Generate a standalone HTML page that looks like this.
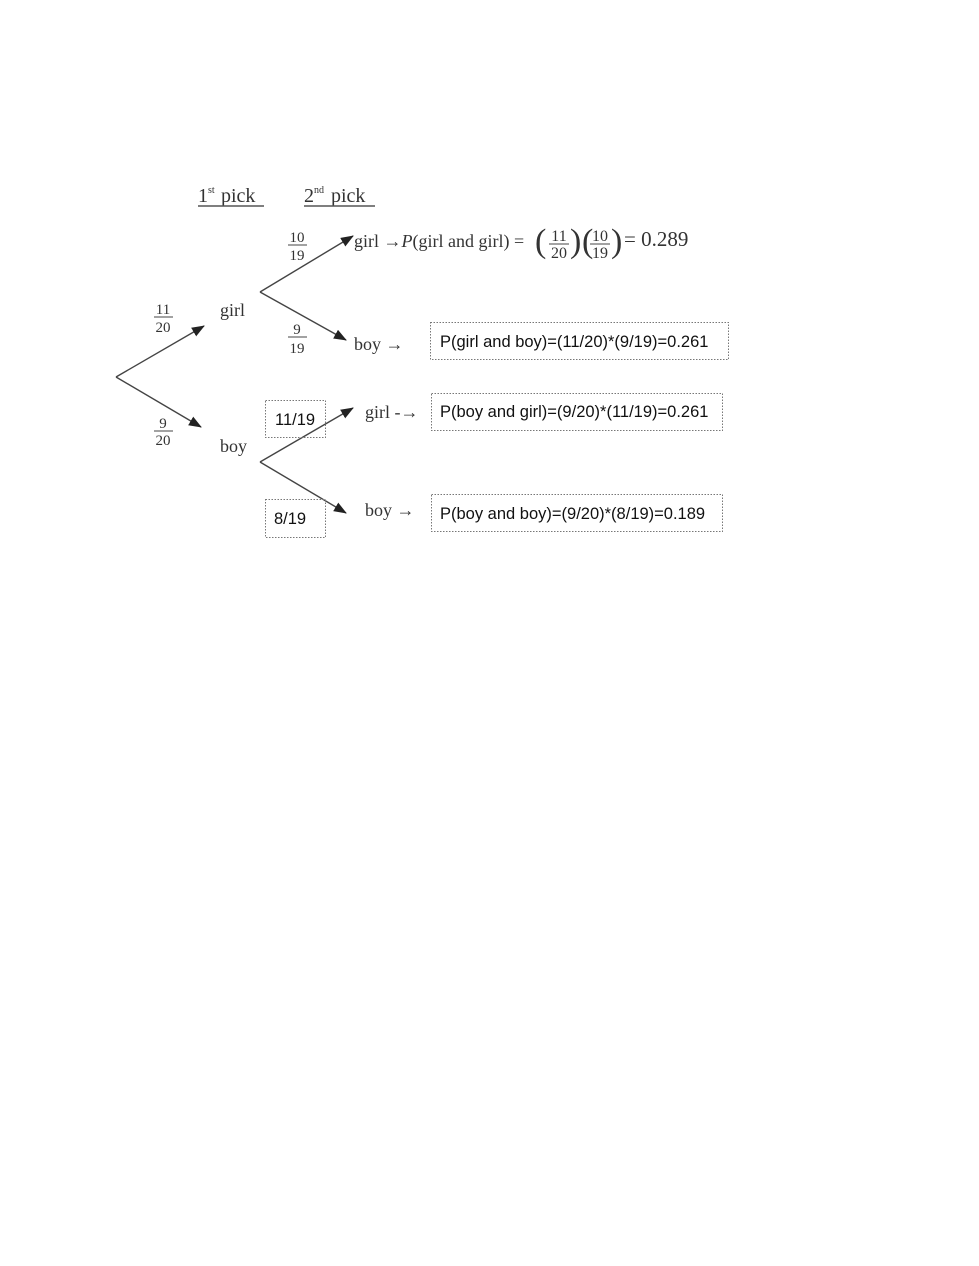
<!DOCTYPE html>
<html><head><meta charset="utf-8"><style>
html,body{margin:0;padding:0;background:#fff;}
svg{display:block}
.s{font-family:"Liberation Serif",serif;fill:#333;}
.a{font-family:"Liberation Sans",sans-serif;fill:#111;font-size:16.5px;}
</style></head><body>
<svg width="979" height="1266" viewBox="0 0 979 1266" xmlns="http://www.w3.org/2000/svg">
<defs><marker id="m" markerWidth="13" markerHeight="10" refX="12" refY="5" orient="auto" markerUnits="userSpaceOnUse"><path d="M0,0 L13,5 L0,10 z" fill="#222"/></marker></defs>
<g stroke="#444" stroke-width="1.4" fill="none">
<path d="M116,377 L204,326" marker-end="url(#m)"/>
<path d="M116,377 L201,427" marker-end="url(#m)"/>
<path d="M260,292 L353,236" marker-end="url(#m)"/>
<path d="M260,292 L346,340" marker-end="url(#m)"/>
<path d="M260,462 L353,408" marker-end="url(#m)"/>
<path d="M260,462 L346,513" marker-end="url(#m)"/>
</g>
<g class="s">
<text x="198" y="202" font-size="20">1</text><text x="208" y="193" font-size="10">st</text><text x="221" y="202" font-size="20">pick</text>
<line x1="198" y1="206" x2="264" y2="206" stroke="#555" stroke-width="1.5"/>
<text x="304" y="202" font-size="20">2</text><text x="314" y="193" font-size="10">nd</text><text x="331" y="202" font-size="20">pick</text>
<line x1="304" y1="206" x2="375" y2="206" stroke="#555" stroke-width="1.5"/>
<g font-size="15" text-anchor="middle">
<text x="163" y="314">11</text><line x1="154" y1="317" x2="173" y2="317" stroke="#444"/><text x="163" y="332">20</text>
<text x="163" y="428">9</text><line x1="154" y1="431" x2="173" y2="431" stroke="#444"/><text x="163" y="445">20</text>
<text x="297" y="242">10</text><line x1="288" y1="245" x2="307" y2="245" stroke="#444"/><text x="297" y="260">19</text>
<text x="297" y="334">9</text><line x1="288" y1="337" x2="307" y2="337" stroke="#444"/><text x="297" y="353">19</text>
</g>
<text x="220" y="316" font-size="18">girl</text>
<text x="220" y="452" font-size="18">boy</text>
<text x="354" y="247" font-size="18">girl →<tspan font-style="italic">P</tspan>(girl and girl) = </text>
<text x="535" y="252" font-size="34" font-weight="100">(</text>
<text x="559" y="241" font-size="16" text-anchor="middle">11</text><line x1="549" y1="244" x2="569" y2="244" stroke="#444"/><text x="559" y="258" font-size="16" text-anchor="middle">20</text>
<text x="570" y="252" font-size="34">)</text>
<text x="582" y="252" font-size="34">(</text>
<text x="600" y="241" font-size="16" text-anchor="middle">10</text><line x1="590" y1="244" x2="610" y2="244" stroke="#444"/><text x="600" y="258" font-size="16" text-anchor="middle">19</text>
<text x="611" y="252" font-size="34">)</text>
<text x="624" y="246" font-size="21">= 0.289</text>
<text x="354" y="350" font-size="18">boy →</text>
<text x="365" y="418" font-size="18">girl -→</text>
<text x="365" y="516" font-size="18">boy →</text>
</g>
<g fill="none" stroke="#777" stroke-width="1" stroke-dasharray="1.5,1.5">
<rect x="430.5" y="322.5" width="298" height="37"/>
<rect x="431.5" y="393.5" width="291" height="37"/>
<rect x="431.5" y="494.5" width="291" height="37"/>
<rect x="265.5" y="400.5" width="60" height="37"/>
<rect x="265.5" y="499.5" width="60" height="38"/>
</g>
<text class="a" x="440" y="347">P(girl and boy)=(11/20)*(9/19)=0.261</text>
<text class="a" x="440" y="417">P(boy and girl)=(9/20)*(11/19)=0.261</text>
<text class="a" x="440" y="519">P(boy and boy)=(9/20)*(8/19)=0.189</text>
<text class="a" x="275" y="425">11/19</text>
<text class="a" x="274" y="524">8/19</text>
</svg>
</body></html>
